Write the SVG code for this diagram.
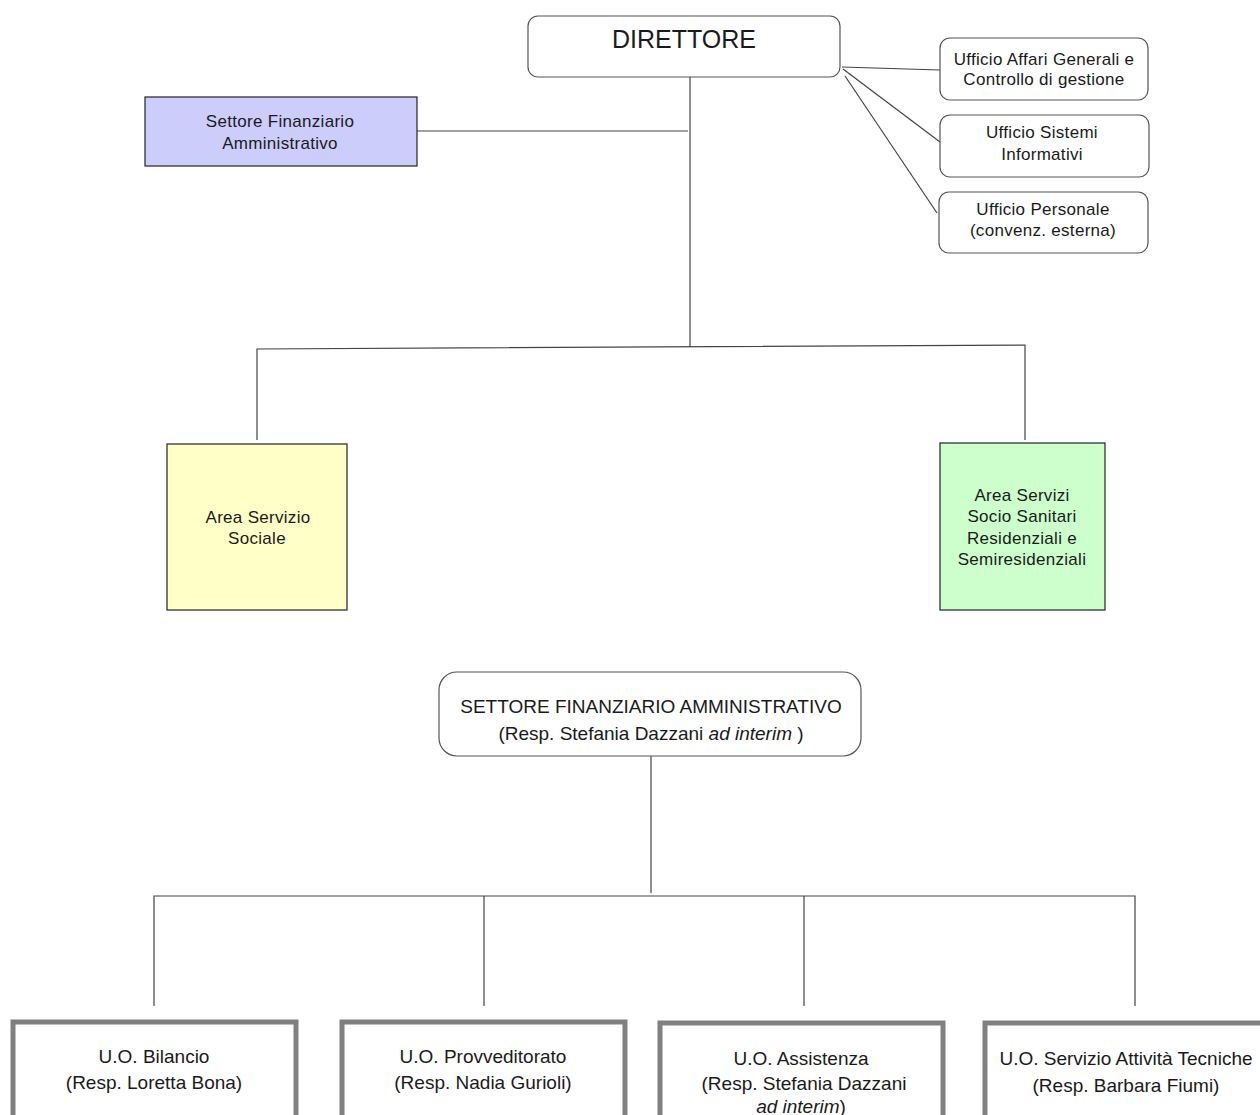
<svg xmlns="http://www.w3.org/2000/svg" width="1260" height="1115" viewBox="0 0 1260 1115">
<style>
text{font-family:"Liberation Sans",Arial,sans-serif;fill:#1a1a1a;text-anchor:middle}
.up{font-size:17px;letter-spacing:0.3px}
.lo{font-size:19px}
.rb{fill:#fff;stroke:#555;stroke-width:1.2}
.sq{stroke:#222;stroke-width:1.2}
.uo{fill:#fff;stroke:#808080;stroke-width:5}
.c{fill:none;stroke:#444;stroke-width:1.2}
</style>
<rect width="1260" height="1115" fill="#fff"/>
<g id="connectors">
<line class="c" x1="417" y1="131" x2="688" y2="131"/>
<line class="c" x1="690" y1="77" x2="690" y2="347"/>
<polyline class="c" points="257,440 257,349 1025,345 1025,440"/>
<line class="c" x1="842" y1="67" x2="940" y2="70"/>
<line class="c" x1="843" y1="69" x2="940" y2="142"/>
<line class="c" x1="845" y1="76" x2="937" y2="213"/>
<line class="c" x1="651" y1="756" x2="651" y2="893"/>
<polyline class="c" points="154,1006 154,896 1135,896 1135,1006"/>
<line class="c" x1="484" y1="896" x2="484" y2="1006"/>
<line class="c" x1="804" y1="896" x2="804" y2="1006"/>
</g>
<g id="direttore">
<rect class="rb" x="528" y="16" width="312" height="61" rx="10"/>
<text x="684" y="48" style="font-size:25px">DIRETTORE</text>
</g>
<g id="ufficio-affari">
<rect class="rb" x="940" y="38" width="208" height="62" rx="10"/>
<text class="up" x="1044" y="65">Ufficio Affari Generali e</text>
<text class="up" x="1044" y="85">Controllo di gestione</text>
</g>
<g id="ufficio-sistemi">
<rect class="rb" x="940" y="115" width="209" height="62" rx="10"/>
<text class="up" x="1042" y="138">Ufficio Sistemi</text>
<text class="up" x="1042" y="160">Informativi</text>
</g>
<g id="ufficio-personale">
<rect class="rb" x="939" y="192" width="209" height="61" rx="10"/>
<text class="up" x="1043" y="215">Ufficio Personale</text>
<text class="up" x="1043" y="236">(convenz. esterna)</text>
</g>
<g id="settore-finanziario-small">
<rect class="sq" x="145" y="97" width="272" height="69" fill="#cdcdfb"/>
<text class="up" x="280" y="127">Settore Finanziario</text>
<text class="up" x="280" y="149">Amministrativo</text>
</g>
<g id="area-servizio-sociale">
<rect class="sq" x="167" y="444" width="180" height="166" fill="#ffffc8"/>
<text class="up" x="258" y="523">Area Servizio</text>
<text class="up" x="257" y="544">Sociale</text>
</g>
<g id="area-socio-sanitari">
<rect class="sq" x="940" y="443" width="165" height="167" fill="#ccffcc"/>
<text class="up" x="1022" y="501">Area Servizi</text>
<text class="up" x="1022" y="522">Socio Sanitari</text>
<text class="up" x="1022" y="544">Residenziali e</text>
<text class="up" x="1022" y="565">Semiresidenziali</text>
</g>
<g id="settore-finanziario">
<rect class="rb" x="439" y="672" width="422" height="84" rx="18"/>
<text class="lo" x="651" y="713">SETTORE FINANZIARIO AMMINISTRATIVO</text>
<text class="lo" x="651" y="740">(Resp. Stefania Dazzani <tspan font-style="italic">ad interim</tspan> )</text>
</g>
<g id="uo-bilancio">
<rect class="uo" x="13" y="1022" width="283" height="110"/>
<text class="lo" x="154" y="1063">U.O. Bilancio</text>
<text class="lo" x="154" y="1089">(Resp. Loretta Bona)</text>
</g>
<g id="uo-provveditorato">
<rect class="uo" x="342" y="1022" width="283" height="110"/>
<text class="lo" x="483" y="1063">U.O. Provveditorato</text>
<text class="lo" x="483" y="1089">(Resp. Nadia Gurioli)</text>
</g>
<g id="uo-assistenza">
<rect class="uo" x="660" y="1023" width="283" height="110"/>
<text class="lo" x="801" y="1065">U.O. Assistenza</text>
<text class="lo" x="804" y="1090">(Resp. Stefania Dazzani</text>
<text class="lo" x="801" y="1113" font-style="italic">ad interim<tspan font-style="normal">)</tspan></text>
</g>
<g id="uo-servizio-attivita">
<rect class="uo" x="985" y="1023" width="290" height="110"/>
<text class="lo" x="1126" y="1065">U.O. Servizio Attività Tecniche</text>
<text class="lo" x="1126" y="1092">(Resp. Barbara Fiumi)</text>
</g>
</svg>
